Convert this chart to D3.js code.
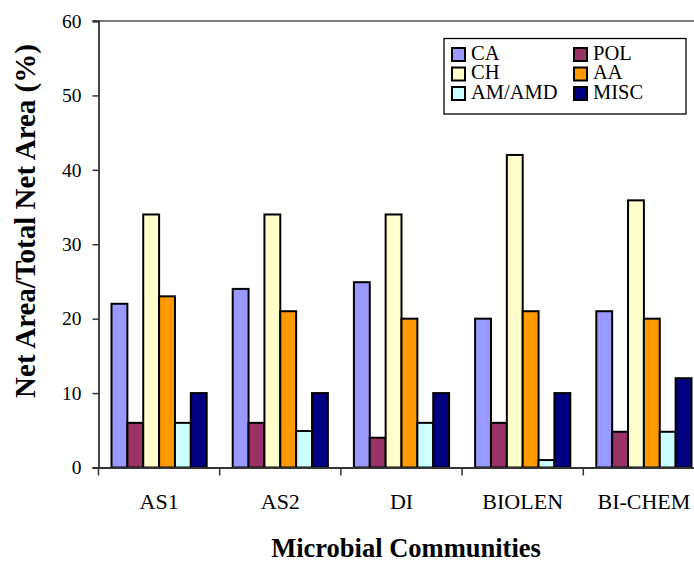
<!DOCTYPE html>
<html>
<head>
<meta charset="utf-8">
<script src="https://cdn.jsdelivr.net/npm/d3@7"></script>
<style>
  html, body { margin: 0; padding: 0; background: #fff; }
  svg { display: block; }
  text { font-family: "Liberation Serif", "Times New Roman", serif; fill: #000; }
</style>
</head>
<body>
<svg id="chart" width="694" height="562"></svg>
<script>
// ---- data ----
const categories = ["AS1", "AS2", "DI", "BIOLEN", "BI-CHEM"];
const seriesNames = ["CA", "POL", "CH", "AA", "AM/AMD", "MISC"];
const CA   = [22, 24, 24.9, 20, 21];
const POL  = [6, 6, 4, 6, 4.8];
const CH   = [34, 34, 34, 42, 35.9];
const AA   = [23, 21, 20, 21, 20];
const AMD  = [6, 4.9, 6, 1, 4.8];
const MISC = [10, 10, 10, 10, 12];
const yTicks = [0, 10, 20, 30, 40, 50, 60];
const seriesColors = ["#9999FF", "#993366", "#FFFFCC", "#FF9900", "#CCFFFF", "#000080"];
const xTitle = "Microbial Communities";
const yTitle = "Net Area/Total Net Area (%)";

const seriesValues = [CA, POL, CH, AA, AMD, MISC];

// ---- layout ----
const svg = d3.select("#chart");
const plot = { left: 98.5, right: 704.5, top: 21, bottom: 467.5 };

const x = d3.scaleBand().domain(categories).range([plot.left, plot.right]).paddingInner(0).paddingOuter(0);
const xs = d3.scaleBand().domain(seriesNames).range([0, x.bandwidth()]).paddingInner(0).paddingOuter(0.82);
const y = d3.scaleLinear().domain([0, 60]).range([plot.bottom, plot.top]);
const color = d3.scaleOrdinal().domain(seriesNames).range(seriesColors);

// top border line
svg.append("line")
  .attr("x1", plot.left - 6).attr("x2", 694)
  .attr("y1", y(60)).attr("y2", y(60))
  .attr("stroke", "#555").attr("stroke-width", 1.5);

// bars
const flat = [];
categories.forEach((c, i) => seriesNames.forEach((s, j) => flat.push({ c, s, v: seriesValues[j][i] })));

svg.append("g").selectAll("rect").data(flat).join("rect")
  .attr("x", d => x(d.c) + xs(d.s))
  .attr("width", xs.bandwidth())
  .attr("y", d => y(d.v))
  .attr("height", d => y(0) - y(d.v))
  .attr("fill", d => color(d.s))
  .attr("stroke", "#000")
  .attr("stroke-width", 2);

// y axis
const yAxis = d3.axisLeft(y).tickValues(yTicks).tickSize(6).tickPadding(11).tickFormat(d3.format("d"));
const gy = svg.append("g").attr("transform", `translate(${plot.left},0)`).call(yAxis);
gy.select(".domain").attr("stroke", "#333").attr("stroke-width", 1.8);
gy.selectAll(".tick line").attr("stroke", "#333").attr("stroke-width", 1.5);
gy.selectAll(".tick text").attr("font-size", 19.5).attr("font-family", "Liberation Serif").attr("fill", "#000");

// x axis
const xAxis = d3.axisBottom(x).tickSize(0).tickPadding(26);
const gx = svg.append("g").attr("transform", `translate(0,${plot.bottom})`).call(xAxis);
gx.select(".domain").attr("stroke", "#333").attr("stroke-width", 1.8);
gx.selectAll(".tick text").attr("font-size", 22).attr("font-family", "Liberation Serif").attr("fill", "#000");
// category boundary ticks
gx.selectAll(".sep").data(categories).join("line")
  .attr("class", "sep")
  .attr("x1", d => x(d)).attr("x2", d => x(d))
  .attr("y1", 0).attr("y2", 8)
  .attr("stroke", "#333").attr("stroke-width", 1.5);

// titles
svg.append("text")
  .attr("x", 406).attr("y", 557)
  .attr("text-anchor", "middle")
  .attr("font-weight", "bold").attr("font-size", 26.5)
  .text(xTitle);

svg.append("text")
  .attr("transform", "translate(35,221) rotate(-90)")
  .attr("text-anchor", "middle")
  .attr("font-weight", "bold").attr("font-size", 29)
  .text(yTitle);

// legend
const lg = svg.append("g");
lg.append("rect")
  .attr("x", 444).attr("y", 38.5).attr("width", 242).attr("height", 75.5)
  .attr("fill", "#fff").attr("stroke", "#000").attr("stroke-width", 1.3);
const colX = [452, 574];
const rowY = [48, 67.5, 87];
const items = lg.selectAll(".item").data(seriesNames).join("g")
  .attr("class", "item")
  .attr("transform", (d, i) => `translate(${colX[i % 2]},${rowY[Math.floor(i / 2)]})`);
items.append("rect")
  .attr("width", 13).attr("height", 13)
  .attr("fill", d => color(d)).attr("stroke", "#000").attr("stroke-width", 2);
items.append("text")
  .attr("x", 19).attr("y", 11.5)
  .attr("font-size", 20.5)
  .text(d => d);
</script>
</body>
</html>
